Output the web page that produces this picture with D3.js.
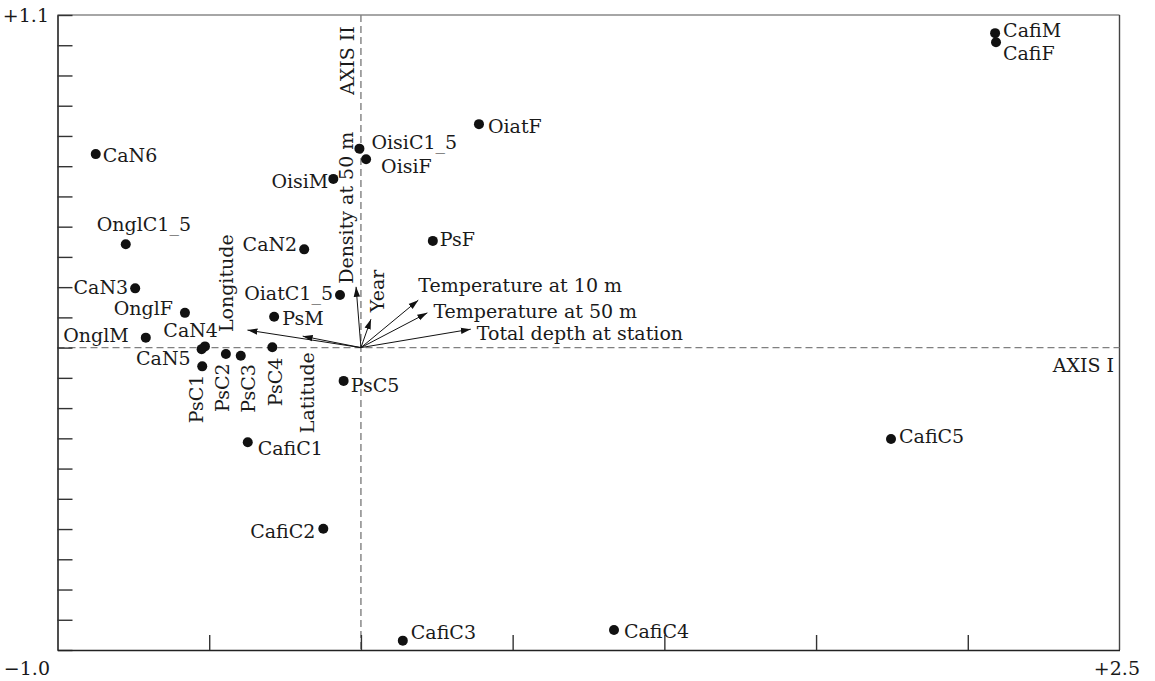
<!DOCTYPE html>
<html><head><meta charset="utf-8">
<script src="https://cdn.jsdelivr.net/npm/d3@7"></script>
<style>
html,body{margin:0;padding:0;background:#fff;}
svg text{font-family:"DejaVu Serif",serif;fill:#1a1a1a;}
</style></head>
<body><svg id="chart" width="1155" height="681"></svg>
<script>
// ---- data ----
const speciesNames = ["CafiM","CafiF","OiatF","OisiC1_5","OisiF","OisiM","CaN6","OnglC1_5","CaN2","PsF","CaN3","OiatC1_5","OnglF","PsM","OnglM","CaN4","CaN5","PsC1","PsC2","PsC3","PsC4","PsC5","CafiC1","CafiC2","CafiC3","CafiC4","CafiC5"];
const axis1Scores = [2.09,2.093,0.389,-0.005,0.017,-0.091,-0.874,-0.775,-0.187,0.237,-0.744,-0.069,-0.580,-0.286,-0.709,-0.514,-0.525,-0.523,-0.445,-0.396,-0.292,-0.057,-0.373,-0.124,0.138,0.834,1.747];
const axis2Scores = [1.04,1.01,0.739,0.658,0.623,0.558,0.640,0.342,0.325,0.353,0.196,0.174,0.115,0.102,0.033,0.004,-0.005,-0.062,-0.021,-0.027,0.001,-0.110,-0.313,-0.599,-0.969,-0.934,-0.302];
const envNames = ["Density at 50 m","Year","Temperature at 10 m","Temperature at 50 m","Total depth at station","Longitude","Latitude"];
const envAxis1 = [-0.016,0.033,0.189,0.219,0.362,-0.374,-0.192];
const envAxis2 = [0.201,0.094,0.157,0.115,0.061,0.058,0.038];
const xDomain = [-1.0, 2.5];
const yDomain = [-1.0, 1.1];
const xTickValues = [-0.5,0,0.5,1.0,1.5,2.0];
const cornerLabels = ["+1.1","\u22121.0","+2.5"];
const axisTitles = ["AXIS I","AXIS II"];

// ---- layout (label placement in pixels, not data) ----
const spLabel = {
  CafiM:[8,4,"start",0], CafiF:[7,18,"start",0], OiatF:[9,9,"start",0],
  OisiC1_5:[12,0,"start",0], OisiF:[15,14,"start",0], OisiM:[-5,9,"end",0],
  CaN6:[7,8,"start",0], OnglC1_5:[-29,-13,"start",0], CaN2:[-7,2,"end",0],
  PsF:[7,5,"start",0], CaN3:[-7,6,"end",0], OiatC1_5:[-7,5,"end",0],
  OnglF:[-12,2,"end",0], PsM:[8,8,"start",0], OnglM:[-17,4,"end",0],
  CaN4:[13,-9,"end",0], CaN5:[-11,16,"end",0],
  PsC1:[1,57,"start",-90], PsC2:[3,58,"start",-90], PsC3:[14,57,"start",-90], PsC4:[10,59,"start",-90],
  PsC5:[7,11,"start",0], CafiC1:[10,13,"start",0], CafiC2:[-8,9,"end",0],
  CafiC3:[8,-2,"start",0], CafiC4:[10,8,"start",0], CafiC5:[8,4,"start",0]
};
const envLabel = {
  "Density at 50 m":[-3,-3,"start",-90], "Year":[13,-7,"start",-90],
  "Temperature at 10 m":[0,-8,"start",0], "Temperature at 50 m":[6,5,"start",0],
  "Total depth at station":[6,11,"start",0], "Longitude":[-14,2,"start",-90],
  "Latitude":[11,97,"start",-90]
};
const FS = 19;

const svg = d3.select("#chart");
const L = 57.5, R = 1119.5, T = 15, B = 650;
const x = d3.scaleLinear().domain(xDomain).range([L, R]);
const y = d3.scaleLinear().domain(yDomain).range([B, T]);

// frame
svg.append("line").attr("x1",L).attr("x2",R).attr("y1",T).attr("y2",T).attr("stroke","#888").attr("stroke-width",1.6);
svg.append("line").attr("x1",R).attr("x2",R).attr("y1",T).attr("y2",B).attr("stroke","#444").attr("stroke-width",1.4);

// dashed zero lines
svg.append("line").attr("x1",L).attr("x2",R).attr("y1",y(0)).attr("y2",y(0))
  .attr("stroke","#808080").attr("stroke-width",1.4).attr("stroke-dasharray","7,4");
svg.append("line").attr("x1",x(0)).attr("x2",x(0)).attr("y1",T).attr("y2",B)
  .attr("stroke","#808080").attr("stroke-width",1.4).attr("stroke-dasharray","7,4");

// axes
const yTicks = d3.range(0,22).map(i => yDomain[0] + i*0.1);
const gy = svg.append("g").attr("transform",`translate(${L},0)`)
  .call(d3.axisLeft(y).tickValues(yTicks).tickSize(-15).tickSizeOuter(0).tickFormat(""));
const gx = svg.append("g").attr("transform",`translate(0,${B})`)
  .call(d3.axisBottom(x).tickValues(xTickValues).tickSize(-15).tickSizeOuter(0).tickFormat(""));
[gy,gx].forEach(g=>{
  g.select(".domain").attr("stroke","#222").attr("stroke-width",1.6);
  g.selectAll(".tick line").attr("stroke","#333").attr("stroke-width",1.4);
});

// corner labels
svg.append("text").attr("x",49).attr("y",22).attr("text-anchor","end").attr("font-size",FS).text(cornerLabels[0]);
svg.append("text").attr("x",50).attr("y",675).attr("text-anchor","end").attr("font-size",FS).text(cornerLabels[1]);
svg.append("text").attr("x",1140).attr("y",675).attr("text-anchor","end").attr("font-size",FS).text(cornerLabels[2]);

// axis titles
svg.append("text").attr("x",1114).attr("y",372).attr("text-anchor","end").attr("font-size",FS).text(axisTitles[0]);
svg.append("text").attr("transform",`translate(354,95) rotate(-90)`).attr("font-size",FS).text(axisTitles[1]);

// arrow marker
svg.append("defs").append("marker").attr("id","ah").attr("viewBox","0 0 10 10")
  .attr("refX",10).attr("refY",5).attr("markerWidth",10).attr("markerHeight",10)
  .attr("markerUnits","userSpaceOnUse").attr("orient","auto")
  .append("path").attr("d","M0,1.8 L10,5 L0,8.2 Z").attr("fill","#111");

const env = envNames.map((n,i)=>({name:n, a1:envAxis1[i], a2:envAxis2[i]}));
svg.append("g").selectAll("line").data(env).join("line")
  .attr("x1",x(0)).attr("y1",y(0)).attr("x2",d=>x(d.a1)).attr("y2",d=>y(d.a2))
  .attr("stroke","#111").attr("stroke-width",1).attr("marker-end","url(#ah)");
svg.append("g").selectAll("text").data(env).join("text")
  .attr("font-size",FS)
  .attr("text-anchor",d=>envLabel[d.name][2])
  .attr("transform",d=>{const o=envLabel[d.name];return `translate(${x(d.a1)+o[0]},${y(d.a2)+o[1]}) rotate(${o[3]})`;})
  .text(d=>d.name);

// species points
const sp = speciesNames.map((n,i)=>({name:n, a1:axis1Scores[i], a2:axis2Scores[i]}));
svg.append("g").selectAll("circle").data(sp).join("circle")
  .attr("cx",d=>x(d.a1)).attr("cy",d=>y(d.a2)).attr("r",5).attr("fill","#111");
svg.append("g").selectAll("text").data(sp).join("text")
  .attr("font-size",FS)
  .attr("text-anchor",d=>spLabel[d.name][2])
  .attr("transform",d=>{const o=spLabel[d.name];return `translate(${x(d.a1)+o[0]},${y(d.a2)+o[1]}) rotate(${o[3]})`;})
  .text(d=>d.name);
</script></body></html>
